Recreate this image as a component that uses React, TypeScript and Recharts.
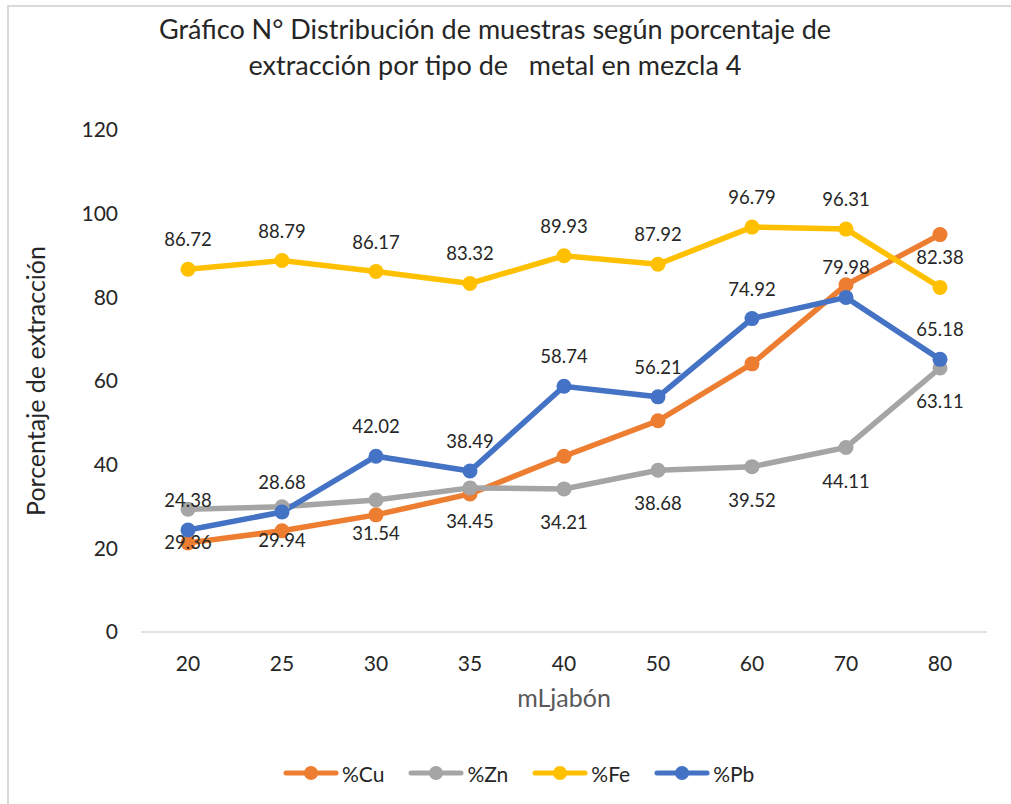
import { LineChart, Line, XAxis, YAxis, LabelList } from "recharts";

const categories = ["20", "25", "30", "35", "40", "50", "60", "70", "80"];
const cu = [21.3, 24.2, 28.0, 33.0, 42.0, 50.5, 64.1, 83.0, 95.0];
const zn = [29.36, 29.94, 31.54, 34.45, 34.21, 38.68, 39.52, 44.11, 63.11];
const fe = [86.72, 88.79, 86.17, 83.32, 89.93, 87.92, 96.79, 96.31, 82.38];
const pb = [24.38, 28.68, 42.02, 38.49, 58.74, 56.21, 74.92, 79.98, 65.18];
const yTicks = [0, 20, 40, 60, 80, 100, 120];

const titleLines = [
  "Gráfico N° Distribución de muestras según porcentaje de",
  "extracción por tipo de   metal en mezcla 4",
];

const series = [
  { key: "cu", name: "%Cu", color: "#ED7D31" },
  { key: "zn", name: "%Zn", color: "#A5A5A5" },
  { key: "fe", name: "%Fe", color: "#FFC000" },
  { key: "pb", name: "%Pb", color: "#4472C4" },
];

const data = categories.map((c, i) => ({
  x: c,
  cu: cu[i],
  zn: zn[i],
  fe: fe[i],
  pb: pb[i],
}));

const FONT = "Lato, 'Open Sans', sans-serif";
const labelStyle = { fontSize: 18.5, fill: "#262626", fontFamily: FONT };

const YTitle = ({ viewBox }: any) => {
  const x = viewBox.x + 35;
  const y = viewBox.y + viewBox.height / 2;
  return (
    <text
      x={x}
      y={y}
      transform={`rotate(-90, ${x}, ${y})`}
      textAnchor="middle"
      dominantBaseline="central"
      fontSize={25}
      fill="#262626"
      fontFamily={FONT}
    >
      Porcentaje de extracción
    </text>
  );
};

export default function App() {
  return (
    <div
      style={{
        position: "absolute",
        left: 0,
        top: 0,
        width: 1011,
        height: 804,
        background: "#fff",
        overflow: "hidden",
        fontFamily: FONT,
      }}
    >
      <div
        style={{
          position: "absolute",
          left: 7,
          top: 5,
          width: 1011,
          height: 804,
          borderLeft: "2px solid #D9D9D9",
          borderTop: "2px solid #D9D9D9",
        }}
      />
      <div
        style={{
          position: "absolute",
          left: 0,
          top: 11,
          width: 990,
          textAlign: "center",
          fontSize: 27,
          lineHeight: "36px",
          color: "#262626",
          whiteSpace: "pre",
        }}
      >
        {titleLines.map((t) => (
          <div key={t}>{t}</div>
        ))}
      </div>
      <div style={{ position: "absolute", left: 0, top: 0 }}>
        <LineChart
          width={1011}
          height={804}
          data={data}
          margin={{ top: 130, right: 24, left: 0, bottom: 0 }}
        >
          <XAxis
            dataKey="x"
            height={172}
            padding={{ left: 47, right: 47 }}
            tickLine={false}
            tickSize={0}
            tickMargin={24}
            axisLine={{ stroke: "#D9D9D9", strokeWidth: 1.5 }}
            tick={{ fontSize: 21, fill: "#262626", fontFamily: FONT }}
            label={{
              value: "mLjabón",
              position: "insideTop",
              offset: 57,
              fontSize: 25,
              fill: "#595959",
              fontFamily: FONT,
            }}
          />
          <YAxis
            width={141}
            domain={[0, 120]}
            ticks={yTicks}
            axisLine={false}
            tickLine={false}
            tickSize={0}
            tickMargin={23}
            tick={{ fontSize: 21, fill: "#262626", fontFamily: FONT }}
            label={{ content: YTitle }}
          />
          {series.map((s) => (
            <Line
              key={s.key}
              dataKey={s.key}
              name={s.name}
              stroke={s.color}
              strokeWidth={5.5}
              dot={{ r: 7.5, fill: s.color, stroke: s.color, strokeWidth: 0 }}
              activeDot={false}
              isAnimationActive={false}
            >
              {s.key === "zn" && (
                <LabelList dataKey="zn" position="bottom" offset={27} style={labelStyle} />
              )}
              {(s.key === "fe" || s.key === "pb") && (
                <LabelList dataKey={s.key} position="top" offset={23} style={labelStyle} />
              )}
            </Line>
          ))}
        </LineChart>
      </div>
      <div
        style={{
          position: "absolute",
          left: 283,
          top: 760,
          display: "flex",
          alignItems: "center",
          height: 26,
        }}
      >
        {series.map((s) => (
          <div
            key={s.key}
            style={{ display: "flex", alignItems: "center", marginRight: 24 }}
          >
            <svg width={56} height={18} style={{ display: "block" }}>
              <line
                x1={3}
                y1={9}
                x2={53}
                y2={9}
                stroke={s.color}
                strokeWidth={5}
                strokeLinecap="round"
              />
              <circle cx={28} cy={9} r={7} fill={s.color} />
            </svg>
            <span style={{ fontSize: 21, color: "#262626", marginLeft: 3 }}>{s.name}</span>
          </div>
        ))}
      </div>
    </div>
  );
}
